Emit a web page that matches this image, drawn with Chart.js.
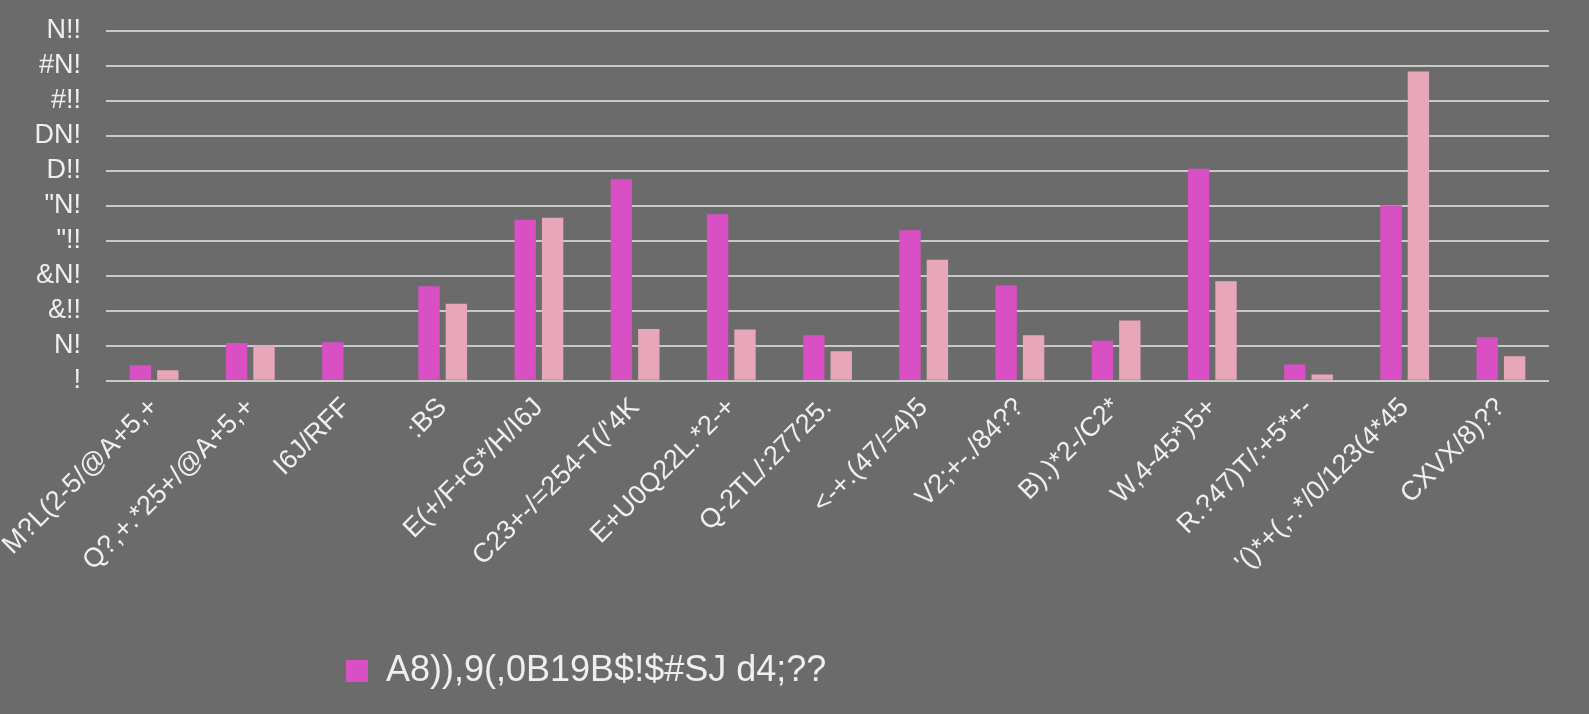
<!DOCTYPE html>
<html>
<head>
<meta charset="utf-8">
<script src="https://cdn.jsdelivr.net/npm/chart.js@4/dist/chart.umd.min.js"></script>
<style>
  html, body { margin: 0; padding: 0; background: #6b6b6b; }
  #wrap { position: relative; width: 1589px; height: 714px; }
</style>
</head>
<body>
<div id="wrap"><canvas id="chart"></canvas></div>
<script>
const categories = [
  "M?L(2-5/@A+5,+", "Q?,+.*25+/@A+5,+", "I6J/RFF", ":BS", "E(+/F+G*/H/I6J",
  "C23+-/=254-T(/'4K", "E+U0Q22L.*2-+", "Q-2TL/:27725.", "<-+.(47/=4)5", "V2;+-./84??",
  "B).)*2-/C2*", "W,4-45*)5+", "R.?47)T/:+5*+-", "'()*+(,-.*/0/123(4*45", "CXVX/8)??"
];
const seriesALabel = "A8)),9(,0B19B$!$#SJ d4;??";
const seriesA = [22, 54, 55, 135, 230, 288, 238, 65, 215, 136, 57, 303, 23, 251, 62];
const seriesB = [15, 51, 0, 110, 233, 74, 73, 42, 173, 65, 86, 142, 9, 442, 35];
const yTickLabels = ["!", "N!", "&!!", "&N!", "\"!!", "\"N!", "D!!", "DN!", "#!!", "#N!", "N!!"];

const textColor = "#efefef";
const gridColor = "#c9c9c9";
const fontFamily = "'Liberation Sans', Arial, sans-serif";

// the reference legend sits left of centre
const legendShift = {
  id: "legendShift",
  afterUpdate(chart) {
    const lg = chart.legend;
    if (!lg) return;
    lg.left = 336;
    lg.adjustHitBoxes();
  },
};

const ctx = document.getElementById("chart").getContext("2d");
new Chart(ctx, {
  type: "bar",
  data: {
    labels: categories,
    datasets: [
      {
        label: seriesALabel,
        data: seriesA,
        backgroundColor: "#d94fc4",
        borderWidth: 0,
      },
      {
        label: "",
        data: seriesB,
        backgroundColor: "#e8a6b9",
        borderWidth: 0,
      },
    ],
  },
  options: {
    responsive: true,
    maintainAspectRatio: false,
    animation: false,
    layout: {
      padding: { left: 34, right: 40, top: 31, bottom: 15 },
    },
    datasets: {
      bar: {
        categoryPercentage: 0.57,
        barPercentage: 0.78,
      },
    },
    plugins: {
      legend: {
        position: "bottom",
        align: "start",
        labels: {
          color: textColor,
          boxWidth: 22,
          boxHeight: 22,
          font: { family: fontFamily, size: 36 },
          filter: (item) => item.datasetIndex === 0,
        },
      },
      tooltip: { enabled: false },
    },
    scales: {
      x: {
        grid: { display: false },
        border: { display: false },
        ticks: {
          color: textColor,
          maxRotation: 45,
          minRotation: 45,
          autoSkip: false,
          font: { family: fontFamily, size: 27 },
        },
        afterFit(scale) {
          // labels may run past the left edge; keep the plot where the reference has it
          scale.paddingLeft = 0;
          scale.paddingRight = 0;
          scale.height += 61;
        },
      },
      y: {
        min: 0,
        max: 500,
        border: { display: false },
        grid: {
          color: gridColor,
          lineWidth: 2,
          drawTicks: false,
        },
        ticks: {
          stepSize: 50,
          autoSkip: false,
          padding: 25,
          color: textColor,
          font: { family: fontFamily, size: 27 },
          callback: (value, index) => yTickLabels[index],
        },
        afterFit(scale) {
          scale.width = 72;
          scale.paddingTop = 0;
          scale.paddingBottom = 0;
        },
      },
    },
  },
  plugins: [legendShift],
});
</script>
</body>
</html>
